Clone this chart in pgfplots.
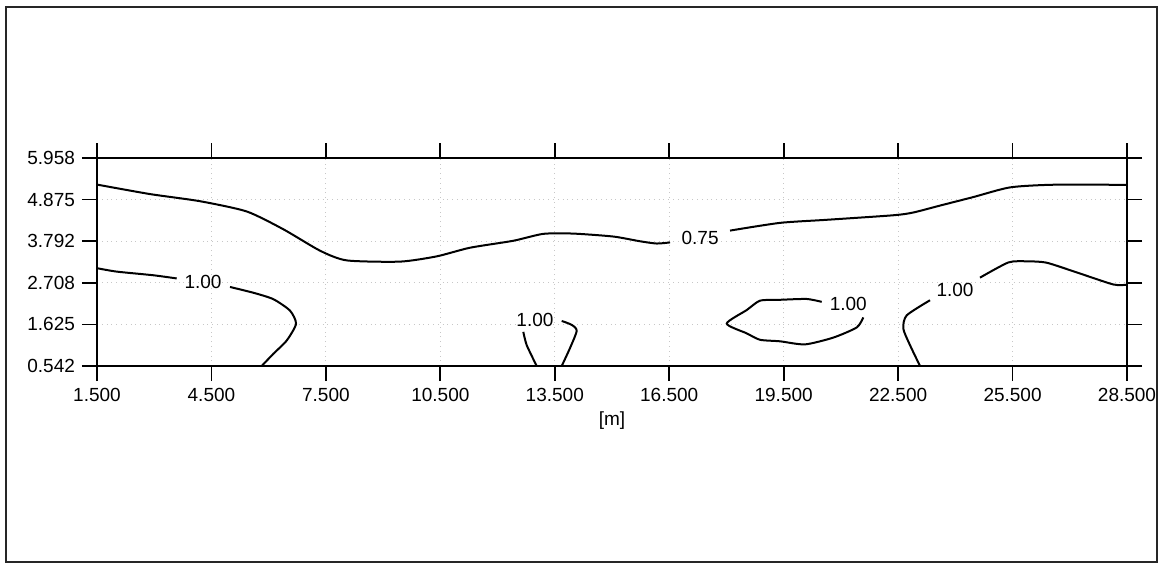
\documentclass[border=0pt]{standalone}
\usepackage{fontspec}
\setmainfont{Liberation Sans}
\usepackage{pgfplots}
\pgfplotsset{compat=1.18}
\begin{document}
\begin{tikzpicture}
\path[use as bounding box] (0pt,0pt) rectangle (579.5pt,284pt);
\draw[line width=1pt, black!85] (3pt,3pt) rectangle (578.5pt,280.5pt);
\begin{axis}[
  at={(48.5pt,101pt)}, anchor=south west,
  scale only axis, width=515pt, height=104pt,
  xmin=1.5, xmax=28.5, ymin=0.542, ymax=5.958,
  xtick={1.5,4.5,7.5,10.5,13.5,16.5,19.5,22.5,25.5,28.5},
  xticklabels={1.500,4.500,7.500,10.500,13.500,16.500,19.500,22.500,25.500,28.500},
  ytick={0.542,1.625,2.708,3.792,4.875,5.958},
  yticklabels={0.542,1.625,2.708,3.792,4.875,5.958},
  tick pos=both, tick align=outside, major tick length=7.5pt,
  tick style={black, line width=0.9pt},
  axis line style={line width=0.9pt},
  grid=major, major grid style={black!22, dotted, line width=0.6pt},
  tick label style={font=\fontsize{9.5}{11}\selectfont},
  /pgf/number format/assume math mode=true,
  xlabel={[m]}, xlabel style={font=\fontsize{9.5}{11}\selectfont, yshift=2pt},
]
% 0.75 contour (left part)
\addplot[black, line width=1pt, smooth, tension=0.4] coordinates {
(1.5,5.266) (2.889,5.019) (4.20,4.833) (5.424,4.566) (6.376,4.107) (7.346,3.545)
(8.046,3.292) (9.443,3.260) (10.405,3.397) (11.278,3.622) (12.413,3.803)
(13.199,3.983) (13.986,3.990) (15.034,3.913) (15.734,3.790) (16.172,3.731) (16.521,3.760)
};
% 0.75 contour (right part)
\addplot[black, line width=1pt, smooth, tension=0.4] coordinates {
(18.094,4.068) (19.404,4.269) (20.628,4.349) (22.374,4.467) (22.898,4.539)
(23.598,4.719) (24.471,4.941) (25.433,5.193) (26.568,5.262) (28.5,5.259)
};
% 1.00 left
\addplot[black, line width=1pt, smooth, tension=0.4] coordinates {
(1.5,3.089) (2.016,3.000) (2.976,2.905) (3.589,2.822)
};
\addplot[black, line width=1pt, smooth, tension=0.4] coordinates {
(4.986,2.600) (5.597,2.450) (6.121,2.283) (6.559,1.984) (6.717,1.640)
(6.473,1.206) (6.121,0.858) (5.817,0.542)
};
% 1.00 middle small
\addplot[black, line width=1pt, smooth, tension=0.4] coordinates {
(12.675,1.431) (12.764,1.085) (13.026,0.542)
};
\addplot[black, line width=1pt, smooth, tension=0.4] coordinates {
(13.682,1.715) (13.944,1.613) (14.075,1.459) (13.899,1.009) (13.682,0.542)
};
% 1.00 closed loop near 19.5
\addplot[black, line width=1pt, smooth, tension=0.4] coordinates {
(20.497,2.212) (20.104,2.287) (19.404,2.266) (18.880,2.243) (18.531,1.999)
(18.007,1.647) (18.531,1.392) (18.880,1.225) (19.404,1.185) (20.060,1.105)
(20.802,1.282) (21.415,1.546) (21.588,1.807)
};
% 1.00 right
\addplot[black, line width=1pt, smooth, tension=0.4] coordinates {
(23.074,0.542) (22.812,1.084) (22.636,1.515) (22.725,1.861) (23.336,2.254)
};
\addplot[black, line width=1pt, smooth, tension=0.4] coordinates {
(24.647,2.843) (25.389,3.238) (25.871,3.268) (26.395,3.231) (27.182,2.979)
(28.141,2.665) (28.5,2.66)
};
% labels
\node[font=\fontsize{9.5}{11}\selectfont] at (axis cs:17.31,3.88) {0.75};
\node[font=\fontsize{9.5}{11}\selectfont] at (axis cs:4.28,2.742) {1.00};
\node[font=\fontsize{9.5}{11}\selectfont] at (axis cs:12.98,1.735) {1.00};
\node[font=\fontsize{9.5}{11}\selectfont] at (axis cs:21.194,2.151) {1.00};
\node[font=\fontsize{9.5}{11}\selectfont] at (axis cs:23.991,2.519) {1.00};
\end{axis}
\end{tikzpicture}
\end{document}
